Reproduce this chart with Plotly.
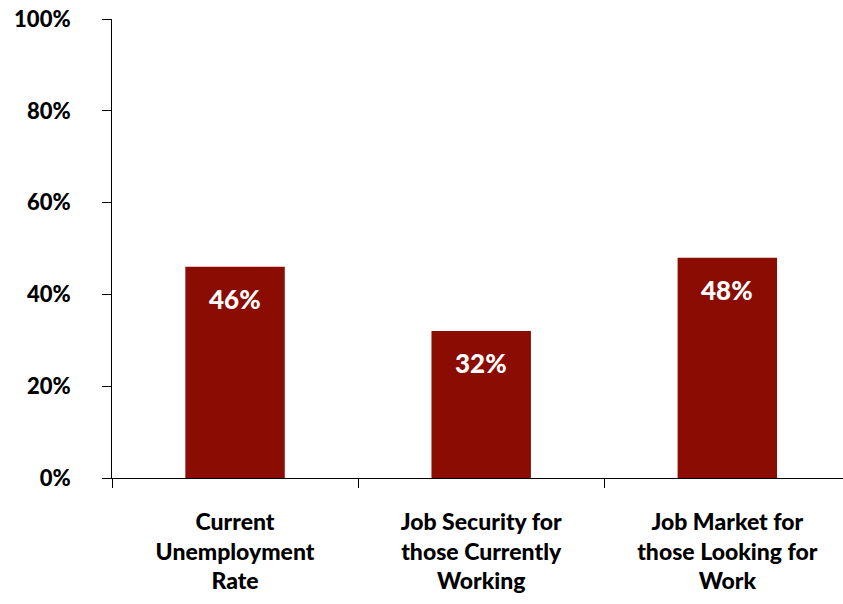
import plotly.graph_objects as go

categories = [
    "Current<br>Unemployment<br>Rate",
    "Job Security for<br>those Currently<br>Working",
    "Job Market for<br>those Looking for<br>Work",
]
values = [46, 32, 48]
y_ticks = [0, 20, 40, 60, 80, 100]
y_tick_labels = ["0%", "20%", "40%", "60%", "80%", "100%"]

bar_color = "#8B0C02"
font_family = "Lato, Open Sans, sans-serif"

fig = go.Figure()
fig.add_trace(go.Bar(
    x=categories,
    y=values,
    marker=dict(color=bar_color, line=dict(width=0)),
    width=0.404,
    hoverinfo="skip",
))

# value labels placed inside each bar, just below its top
for cat, v in zip(categories, values):
    fig.add_annotation(
        x=cat, y=v, text=f"{v}%", showarrow=False,
        yshift=-32, font=dict(family=font_family, size=26, color="white", weight=900),
    )

fig.update_layout(
    width=843, height=604,
    margin=dict(l=112, r=0, t=19, b=126),
    plot_bgcolor="white", paper_bgcolor="white",
    showlegend=False,
    font=dict(family=font_family, color="black"),
    xaxis=dict(
        type="category",
        range=[-0.5, 2.47],
        tickson="boundaries",
        ticks="outside", ticklen=9, tickcolor="black", tickwidth=1,
        showline=True, linecolor="black", linewidth=1,
        showgrid=False, zeroline=False,
        tickfont=dict(family=font_family, size=23, color="black", weight=900),
        ticklabelstandoff=23,
    ),
    yaxis=dict(
        range=[0, 100],
        tickvals=y_ticks, ticktext=y_tick_labels,
        ticks="outside", ticklen=9, tickcolor="black", tickwidth=1,
        showline=True, linecolor="black", linewidth=1,
        showgrid=False, zeroline=False,
        tickfont=dict(family=font_family, size=22, color="black", weight=900),
        ticklabelstandoff=27,
    ),
)

fig.write_html("out.html")
